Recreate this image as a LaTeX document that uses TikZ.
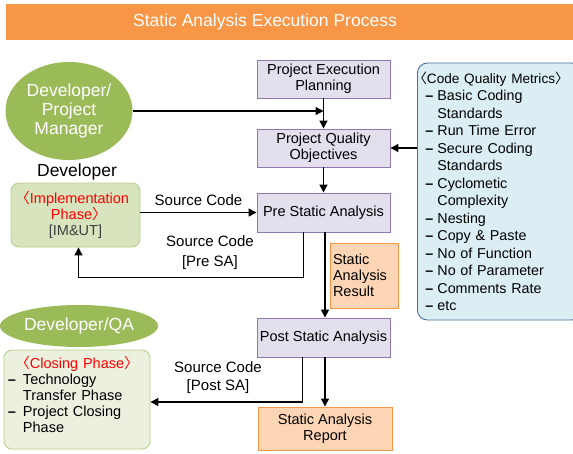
\documentclass[tikz,border=0pt]{standalone}
\usepackage{fontspec}
\setmainfont{Liberation Sans}
\newfontfamily\cjk{Noto Sans CJK KR}
\usetikzlibrary{arrows.meta,shapes.geometric}
\definecolor{barorange}{HTML}{F79646}
\definecolor{rolegreen}{HTML}{9BBB59}
\definecolor{phasefill}{HTML}{D7E4BD}
\definecolor{closefill}{HTML}{EBF1DE}
\definecolor{phaseline}{HTML}{B9CF8E}
\definecolor{procfill}{HTML}{E4DFEC}
\definecolor{procline}{HTML}{8F78B0}
\definecolor{outfill}{HTML}{FCD5B4}
\definecolor{metfill}{HTML}{DBEEF4}
\definecolor{metline}{HTML}{4A6F94}
\newcommand\lb{\kern-.45em{\cjk 〈}}
\newcommand\rb{{\cjk 〉}\kern-.45em}
\newcommand\itm{\hspace*{6pt}\makebox[12pt][l]{\textbf{--}}}
\newcommand\ind{\hspace*{18pt}}
\newcommand\itc{\makebox[15pt][l]{\textbf{--}}}
\newcommand\inc{\hspace*{15pt}}
\begin{document}
\begin{tikzpicture}[x=1pt,y=-1pt,line width=1.3pt,
    >={Triangle[length=8pt,width=8pt]},
    txt/.style={font=\fontsize{14.5}{16}\selectfont},
    process/.style={txt,draw=procline,fill=procfill,line width=.9pt,
        minimum width=133pt,minimum height=38pt,align=center,inner sep=2pt},
    output/.style={process,draw=barorange,fill=outfill},
    role/.style={ellipse,fill=rolegreen,text=white,align=center,inner sep=0pt,
        font=\fontsize{17.5}{19}\selectfont},
    phase/.style={txt,draw=phaseline,line width=.9pt,rounded corners=8pt}]
    \useasboundingbox (0,0) rectangle (573,453);
    \fill[barorange] (6,4) rectangle (573,40);
    \node[text=white,font=\fontsize{17.5}{20}\selectfont] (title) at (265,22) {Static Analysis Execution Process};

    \node[role,minimum width=127pt,minimum height=98pt] (devpm) at (69,111) {Developer/\\Project\\Manager};
    \node[font=\fontsize{17.5}{18}\selectfont] (dev) at (77,172) {Developer};
    \node[phase,fill=phasefill,minimum width=129pt,minimum height=64pt,align=center] (impl) at (75.5,215)
        {\textcolor{red}{\lb Implementation}\\\textcolor{red}{Phase\rb}\\\textcolor{black!75}{[IM\&UT]}};
    \node[role,minimum width=158pt,minimum height=42pt] (devqa) at (79,326) {Developer/QA};
    \node[phase,fill=closefill,minimum width=146pt,minimum height=99pt,text width=138pt,align=left,
        inner sep=4pt] (closing) at (77,399.5)
        {\makebox[138pt]{\textcolor{red}{\lb Closing Phase\rb}}\\\itc Technology\\\inc Transfer Phase\\
         \itc Project Closing\\\inc Phase\\[-5pt]\mbox{}};

    \node[process] (pep) at (323.5,79) {Project Execution\\Planning};
    \node[process] (pqo) at (323.5,148) {Project Quality\\Objectives};
    \node[process,minimum height=39pt] (presa) at (323.5,212.5) {Pre Static Analysis};
    \node[output,minimum width=68pt,minimum height=65pt,text width=62pt,align=left] (result) at (364,275.5)
        {Static\\Analysis\\Result};
    \node[process,minimum height=39pt] (postsa) at (323.5,337.5) {Post Static Analysis};
    \node[output,minimum width=134pt,minimum height=43pt] (report) at (325,428.5) {Static Analysis\\Report};

    \node[txt,draw=metline,fill=metfill,line width=.9pt,rounded corners=10pt,anchor=west,
        minimum height=257pt,text width=160pt,align=left,inner sep=2pt,
        font=\fontsize{14.3}{17.5}\selectfont] (metrics) at (417,191.5)
        {{\fontsize{13.6}{17.5}\selectfont\lb Code Quality Metrics\rb}\\\itm Basic Coding\\\ind Standards\\
         \itm Run Time Error\\\itm Secure Coding\\\ind Standards\\\itm Cyclometic\\\ind Complexity\\
         \itm Nesting\\\itm Copy \& Paste\\\itm No of Function\\\itm No of Parameter\\\itm Comments Rate\\\itm etc};

    \draw[->] (devpm.east) -- (devpm.east -| pep.south);
    \draw[->] (pep) -- (pqo);
    \draw[->] (pqo.east -| metrics.west) -- (pqo.east);
    \draw[->] (pqo) -- (presa);
    \draw[->] (impl.east |- presa) -- node[txt,font=\fontsize{15}{16}\selectfont,above=3pt] (srcin) {Source Code} (presa.west);
    \draw[->] ([xshift=-20pt]presa.south) -- ++(0,45) -| ([xshift=3pt]impl.south);
    \node[txt,align=center,font=\fontsize{15}{20}\selectfont] (srcpre) at (210,253) {Source Code\\{[Pre SA]}};
    \draw[->] ([xshift=1.5pt]presa.south) -- ([xshift=1.5pt]postsa.north);
    \draw[->] ([xshift=1.5pt]postsa.south) -- (report.north);
    \draw[->] ([xshift=-21pt]postsa.south) |- ([yshift=-2.5pt]closing.east);
    \node[txt,align=center,font=\fontsize{15}{18}\selectfont] (srcpost) at (218,378) {Source Code\\{[Post SA]}};
\end{tikzpicture}
\end{document}
